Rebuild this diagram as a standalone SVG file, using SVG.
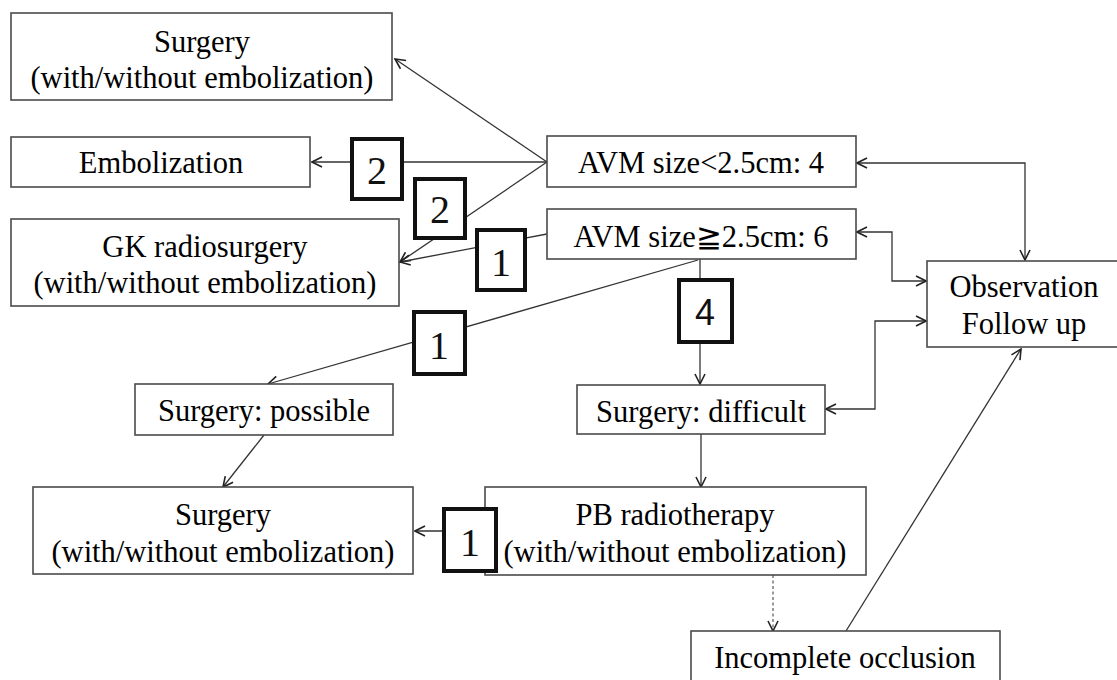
<svg xmlns="http://www.w3.org/2000/svg" width="1117" height="680" viewBox="0 0 1117 680">
  <style>
    .box { fill: #ffffff; stroke: #4a4a4a; stroke-width: 1.6; }
    .lbl { font-family: 'Liberation Serif', 'DejaVu Serif', serif; font-size: 30.5px; fill: #000000; text-anchor: middle; }
    .link { fill: none; stroke: #333333; stroke-width: 1.3; }
    .dash { stroke-dasharray: 3 2.5; stroke: #666666; }
    .badge { fill: #ffffff; stroke: #111111; stroke-width: 4; }
    .num { font-family: 'Liberation Serif', 'DejaVu Serif', serif; font-size: 40px; fill: #111111; text-anchor: middle; }
    .num-sans { font-family: 'Liberation Sans', 'DejaVu Sans', sans-serif; font-size: 36px; fill: #111111; text-anchor: middle; }
  </style>
  <defs>
    <marker id="arr" viewBox="0 0 12 12" refX="11" refY="6" markerWidth="12" markerHeight="12" markerUnits="userSpaceOnUse" orient="auto-start-reverse">
      <path d="M1,1 L11,6 L1,11" fill="none" stroke="#222222" stroke-width="1.6"/>
    </marker>
  </defs>
  <rect width="1117" height="680" fill="#ffffff"/>

  <!-- connectors -->
  <g id="connectors">
    <line class="link" x1="547" y1="162" x2="395" y2="59" marker-end="url(#arr)"/>
    <line class="link" x1="547" y1="162" x2="312" y2="162" marker-end="url(#arr)"/>
    <line class="link" x1="547" y1="162" x2="400" y2="262" marker-end="url(#arr)"/>
    <line class="link" x1="547" y1="234" x2="400" y2="262" marker-end="url(#arr)"/>
    <line class="link" x1="700" y1="259" x2="700" y2="384" marker-end="url(#arr)"/>
    <line class="link" x1="698" y1="260" x2="268" y2="384" marker-end="url(#arr)"/>
    <line class="link" x1="264" y1="435" x2="223" y2="487" marker-end="url(#arr)"/>
    <line class="link" x1="701" y1="434" x2="701" y2="487" marker-end="url(#arr)"/>
    <line class="link" x1="486" y1="531" x2="415" y2="531" marker-end="url(#arr)"/>
    <line class="link dash" x1="773" y1="575" x2="773" y2="631" marker-end="url(#arr)"/>
    <line class="link" x1="846" y1="631" x2="1021" y2="349" marker-end="url(#arr)"/>
    <path class="link" d="M857,163 H1025 V260" marker-start="url(#arr)" marker-end="url(#arr)"/>
    <path class="link" d="M857,232 H892 V281 H926" marker-start="url(#arr)" marker-end="url(#arr)"/>
    <path class="link" d="M826,409 H875 V321 H926" marker-start="url(#arr)" marker-end="url(#arr)"/>
  </g>

  <g id="surgery-top">
    <rect class="box" x="11" y="13" width="381" height="87"/>
    <text class="lbl" x="202" y="52">Surgery</text>
    <text class="lbl" x="202" y="88">(with/without embolization)</text>
  </g>
  <g id="embolization">
    <rect class="box" x="11" y="137" width="299" height="50"/>
    <text class="lbl" x="161" y="173">Embolization</text>
  </g>
  <g id="gk-radiosurgery">
    <rect class="box" x="11" y="219" width="388" height="87"/>
    <text class="lbl" x="205" y="257">GK radiosurgery</text>
    <text class="lbl" x="205" y="293">(with/without embolization)</text>
  </g>
  <g id="avm-small">
    <rect class="box" x="547" y="136" width="309" height="51"/>
    <text class="lbl" x="701" y="173">AVM size&lt;2.5cm: 4</text>
  </g>
  <g id="avm-large">
    <rect class="box" x="547" y="209" width="309" height="50"/>
    <text class="lbl" x="701" y="247">AVM size≧2.5cm: 6</text>
  </g>
  <g id="observation">
    <rect class="box" x="927" y="261" width="200" height="86"/>
    <text class="lbl" x="1024" y="297">Observation</text>
    <text class="lbl" x="1024" y="334">Follow up</text>
  </g>
  <g id="surgery-possible">
    <rect class="box" x="135" y="384" width="258" height="51"/>
    <text class="lbl" x="264" y="421">Surgery: possible</text>
  </g>
  <g id="surgery-difficult">
    <rect class="box" x="577" y="385" width="248" height="49"/>
    <text class="lbl" x="701" y="422">Surgery: difficult</text>
  </g>
  <g id="surgery-bottom">
    <rect class="box" x="33" y="487" width="380" height="87"/>
    <text class="lbl" x="223" y="525">Surgery</text>
    <text class="lbl" x="223" y="562">(with/without embolization)</text>
  </g>
  <g id="pb-radiotherapy">
    <rect class="box" x="485" y="487" width="381" height="88"/>
    <text class="lbl" x="675" y="525">PB radiotherapy</text>
    <text class="lbl" x="675" y="562">(with/without embolization)</text>
  </g>
  <g id="incomplete-occlusion">
    <rect class="box" x="691" y="631" width="309" height="60"/>
    <text class="lbl" x="845" y="668">Incomplete occlusion</text>
  </g>

  <!-- count badges -->
  <g id="badge-embolization">
    <rect class="badge" x="352" y="139" width="50" height="60"/>
    <text class="num" x="377" y="184">2</text>
  </g>
  <g id="badge-gk-small">
    <rect class="badge" x="415" y="179" width="50" height="59"/>
    <text class="num" x="440" y="223">2</text>
  </g>
  <g id="badge-gk-large">
    <rect class="badge" x="477" y="230" width="48" height="60"/>
    <text class="num" x="501" y="276">1</text>
  </g>
  <g id="badge-possible">
    <rect class="badge" x="414" y="312" width="51" height="62"/>
    <text class="num" x="439" y="359">1</text>
  </g>
  <g id="badge-difficult">
    <rect class="badge" x="679" y="280" width="53" height="62"/>
    <text class="num-sans" x="705" y="325">4</text>
  </g>
  <g id="badge-pb">
    <rect class="badge" x="444" y="509" width="52" height="62"/>
    <text class="num" x="470" y="556">1</text>
  </g>
</svg>
